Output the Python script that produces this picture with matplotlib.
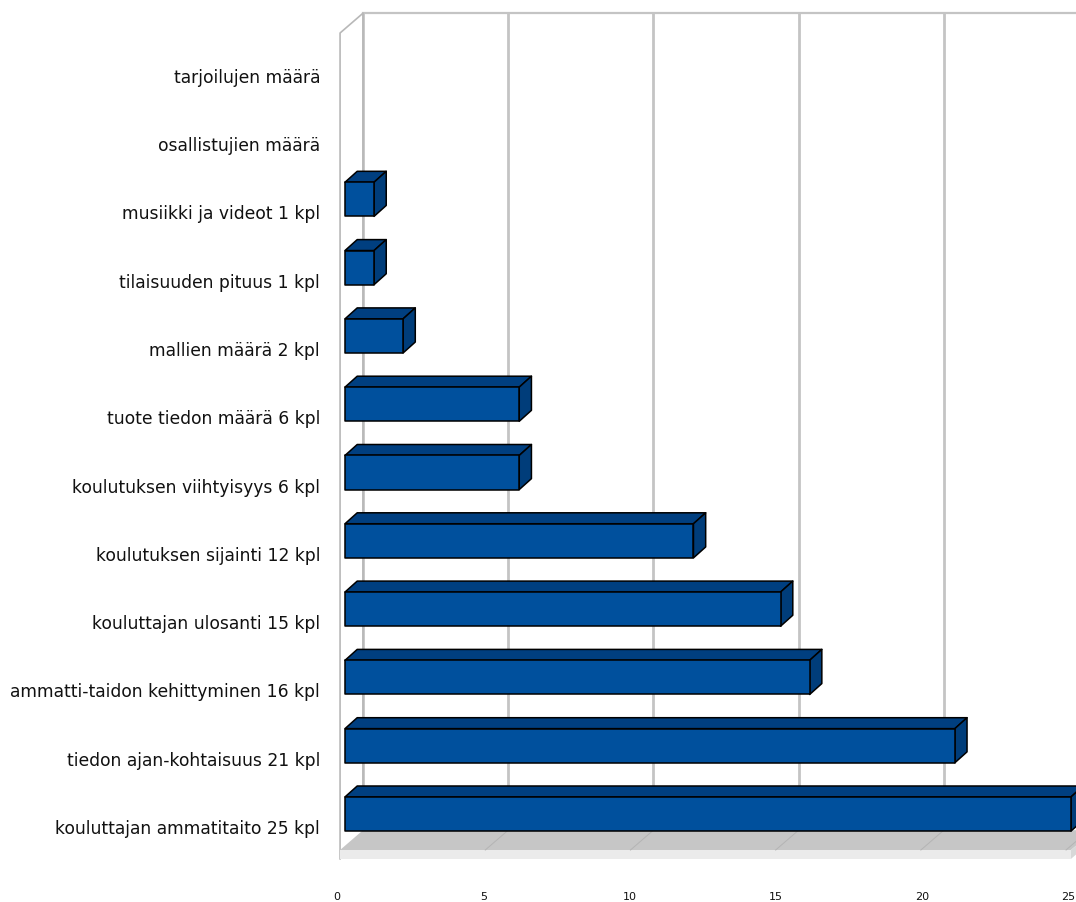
import matplotlib
matplotlib.use("Agg")
import matplotlib.pyplot as plt
from matplotlib.patches import Polygon
from matplotlib.transforms import offset_copy

# data, listed bottom to top
labels = [
    "kouluttajan ammatitaito 25 kpl",
    "tiedon ajan-kohtaisuus 21 kpl",
    "ammatti-taidon kehittyminen 16 kpl",
    "kouluttajan ulosanti 15 kpl",
    "koulutuksen sijainti 12 kpl",
    "koulutuksen viihtyisyys 6 kpl",
    "tuote tiedon määrä 6 kpl",
    "mallien määrä 2 kpl",
    "tilaisuuden pituus 1 kpl",
    "musiikki ja videot 1 kpl",
    "osallistujien määrä",
    "tarjoilujen määrä",
]
values = [25, 21, 16, 15, 12, 6, 6, 2, 1, 1, 0, 0]
xticks = [0, 5, 10, 15, 20, 25]

FRONT = "#00509d"
TOP = "#003f80"
SIDE = "#003d7a"
GRID = "#c4c4c4"

fig = plt.figure(figsize=(10.76, 9.02), dpi=100)
ax = fig.add_axes([345 / 1076, 52 / 902, 726 / 1076, 817 / 902])
ax.set_xlim(0, 25)
ax.set_ylim(-0.527, 11.435)
ax.axis("off")

half = 0.25            # half bar height (rows)
bdx, bdy = 0.42, 0.16  # bar depth
wx0 = -0.17            # front edge of the walls
wdx, wdy = 0.79, 0.29  # wall depth
ybot = -0.527
ytop = 11.435

# back wall grid lines
for t in xticks:
    ax.plot([t + wx0 + wdx] * 2, [ybot + wdy, ytop + wdy], color=GRID, lw=2,
            zorder=1, clip_on=False)
ax.plot([wx0 + wdx, 26], [ytop + wdy] * 2, color=GRID, lw=1.6, zorder=1, clip_on=False)

# left wall
ax.plot([wx0, wx0, wx0 + wdx, wx0 + wdx], [ybot - 0.13, ytop, ytop + wdy, ybot + wdy],
        color="#b8b8b8", lw=1.2, zorder=1, clip_on=False)

# floor
ax.add_patch(Polygon([(wx0, ybot), (25, ybot), (25 + wdx, ybot + wdy),
                      (wx0 + wdx, ybot + wdy)], closed=True, fc="#c6c6c6",
                     ec="none", zorder=2, clip_on=False))
ax.add_patch(Polygon([(wx0, ybot - 0.13), (25, ybot - 0.13), (25, ybot), (wx0, ybot)],
                     closed=True, fc="#ebebeb", ec="none", zorder=2, clip_on=False))
ax.add_patch(Polygon([(25, ybot - 0.13), (25 + wdx, ybot - 0.13 + wdy),
                      (25 + wdx, ybot + wdy), (25, ybot)], closed=True,
                     fc="#d8d8d8", ec="none", zorder=2, clip_on=False))
for t in xticks[1:]:
    ax.plot([t + wx0, t + wx0 + wdx], [ybot, ybot + wdy], color="#b4b4b4",
            lw=0.7, zorder=2, clip_on=False)

# 3d bars
for r, v in enumerate(values):
    if v <= 0:
        continue
    y0, y1 = r - half, r + half
    top = [(0, y1), (v, y1), (v + bdx, y1 + bdy), (bdx, y1 + bdy)]
    side = [(v, y0), (v + bdx, y0 + bdy), (v + bdx, y1 + bdy), (v, y1)]
    front = [(0, y0), (v, y0), (v, y1), (0, y1)]
    for pts, c in ((top, TOP), (side, SIDE), (front, FRONT)):
        ax.add_patch(Polygon(pts, closed=True, fc=c, ec="black", lw=1.1,
                             joinstyle="round", zorder=5, clip_on=False))

# category labels
lab_tr = offset_copy(ax.transData, fig=fig, x=-25, y=-15, units="dots")
for r, lab in enumerate(labels):
    ax.text(0, r, lab, transform=lab_tr, ha="right", va="center",
            fontsize=12.3, family="DejaVu Sans", color="#111111")

# value axis labels
for t in xticks:
    tr = offset_copy(ax.transData, fig=fig, x=-8 + t * 0.2, y=-47, units="dots")
    ax.text(t, ybot, str(t), transform=tr, ha="center", va="center",
            fontsize=8, family=["Liberation Sans Narrow", "DejaVu Sans"],
            color="#111111")

fig.savefig("out.png", dpi=100)
